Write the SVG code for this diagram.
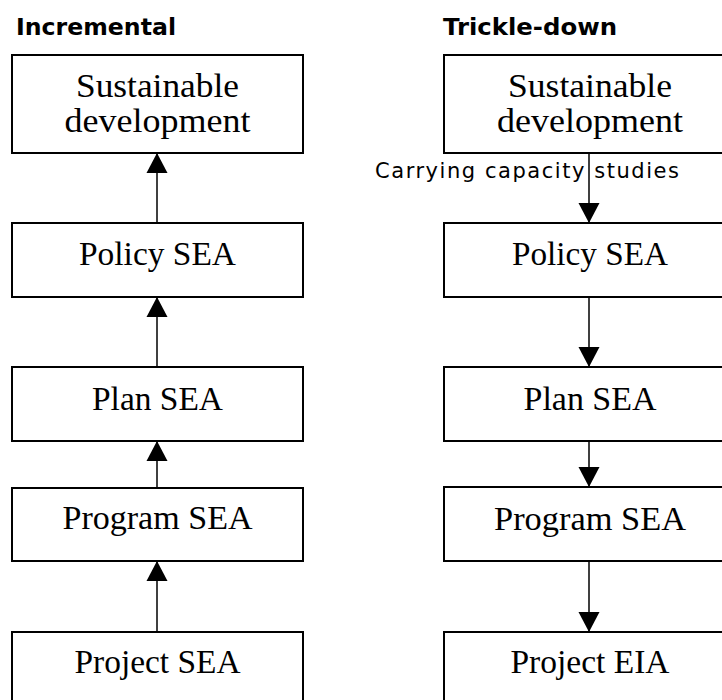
<svg xmlns="http://www.w3.org/2000/svg" width="722" height="700" viewBox="0 0 722 700">
<defs>
<marker id="ah" markerUnits="userSpaceOnUse" markerWidth="22" markerHeight="22" viewBox="0 0 22 22" refX="20" refY="11" orient="auto">
<path d="M0,0.5 L20,11 L0,21.5 Z" fill="#000"/>
</marker>
<style>
.box{fill:#fff;stroke:#000;stroke-width:2}
.lbl{font-family:"Liberation Serif",serif;font-size:33px;fill:#000;text-anchor:middle}
.hdr{font-family:"DejaVu Sans",sans-serif;font-weight:bold;font-size:23px;fill:#000}
.edge{stroke:#000;stroke-width:1.5;fill:none;marker-end:url(#ah)}
.elbl{font-family:"DejaVu Sans",sans-serif;font-size:21px;fill:#000}
</style>
</defs>
<rect width="722" height="700" fill="#fff"/>
<text class="hdr" x="16" y="35" textLength="160" lengthAdjust="spacingAndGlyphs">Incremental</text>
<text class="hdr" x="443" y="35" textLength="174" lengthAdjust="spacingAndGlyphs">Trickle-down</text>

<g id="L1"><rect class="box" x="12" y="55" width="291" height="98"/>
<text class="lbl" x="157.5" y="97" textLength="163" lengthAdjust="spacingAndGlyphs">Sustainable</text>
<text class="lbl" x="157.5" y="132" textLength="186" lengthAdjust="spacingAndGlyphs">development</text></g>
<g id="L2"><rect class="box" x="12" y="223" width="291" height="74"/>
<text class="lbl" x="157.5" y="265" textLength="157" lengthAdjust="spacingAndGlyphs">Policy SEA</text></g>
<g id="L3"><rect class="box" x="12" y="367" width="291" height="74"/>
<text class="lbl" x="157.5" y="410" textLength="131" lengthAdjust="spacingAndGlyphs">Plan SEA</text></g>
<g id="L4"><rect class="box" x="12" y="488" width="291" height="73"/>
<text class="lbl" x="157.5" y="529" textLength="190" lengthAdjust="spacingAndGlyphs">Program SEA</text></g>
<g id="L5"><rect class="box" x="12" y="632" width="291" height="90"/>
<text class="lbl" x="157.5" y="673" textLength="166" lengthAdjust="spacingAndGlyphs">Project SEA</text></g>

<g id="R1"><rect class="box" x="444" y="55" width="291" height="98"/>
<text class="lbl" x="590" y="97" textLength="164" lengthAdjust="spacingAndGlyphs">Sustainable</text>
<text class="lbl" x="590" y="132" textLength="186" lengthAdjust="spacingAndGlyphs">development</text></g>
<g id="R2"><rect class="box" x="444" y="223" width="291" height="74"/>
<text class="lbl" x="590" y="265" textLength="156" lengthAdjust="spacingAndGlyphs">Policy SEA</text></g>
<g id="R3"><rect class="box" x="444" y="367" width="291" height="74"/>
<text class="lbl" x="590" y="410" textLength="133" lengthAdjust="spacingAndGlyphs">Plan SEA</text></g>
<g id="R4"><rect class="box" x="444" y="487" width="291" height="74"/>
<text class="lbl" x="590" y="530" textLength="192" lengthAdjust="spacingAndGlyphs">Program SEA</text></g>
<g id="R5"><rect class="box" x="444" y="632" width="291" height="90"/>
<text class="lbl" x="590" y="673" textLength="159" lengthAdjust="spacingAndGlyphs">Project EIA</text></g>

<g id="connectors">
<line class="edge" x1="157" y1="223" x2="157" y2="153"/>
<line class="edge" x1="157" y1="367" x2="157" y2="297"/>
<line class="edge" x1="157" y1="488" x2="157" y2="441"/>
<line class="edge" x1="157" y1="632" x2="157" y2="561"/>
<line class="edge" x1="589" y1="153" x2="589" y2="223"/>
<line class="edge" x1="589" y1="297" x2="589" y2="367"/>
<line class="edge" x1="589" y1="441" x2="589" y2="487"/>
<line class="edge" x1="589" y1="561" x2="589" y2="632"/>
<text class="elbl" x="375" y="178" textLength="304" lengthAdjust="spacing">Carrying capacity studies</text>
</g>
</svg>
